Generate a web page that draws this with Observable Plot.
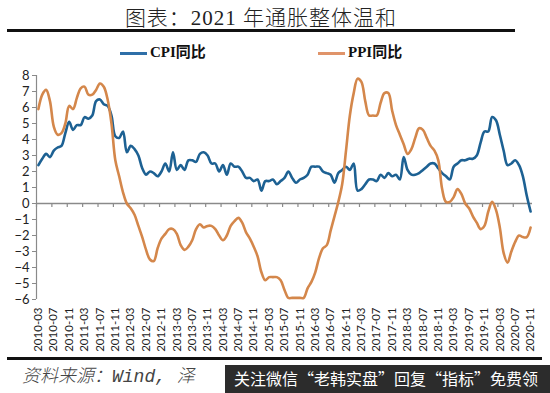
<!DOCTYPE html>
<html><head><meta charset="utf-8">
<script src="https://cdn.jsdelivr.net/npm/d3@7"></script>
<script src="https://cdn.jsdelivr.net/npm/@observablehq/plot@0.6"></script>
<style>
body{margin:0;background:#fff;width:550px;height:393px;position:relative;overflow:hidden;font-family:"Noto Sans CJK SC",sans-serif;}
.abs{position:absolute;}
#title{left:0;width:522px;top:1px;text-align:center;font-size:21px;color:#222;font-family:"Liberation Serif","Noto Sans CJK SC",serif;letter-spacing:1px;font-weight:300;}
.bar{background:#111;}
.leg{font-family:"Liberation Serif","Noto Sans CJK SC",serif;font-weight:bold;font-size:15px;color:#111;line-height:20px;}
.legline{display:inline-block;width:27px;height:2.5px;vertical-align:middle;margin-right:3px;}
#chart{left:0;top:62px;}
#src{left:22px;top:361px;font-size:18px;font-style:italic;color:#444;font-family:"Noto Sans CJK SC",serif;font-weight:300;white-space:nowrap;}
#src .m{font-family:"Liberation Mono",monospace;}
#wm{left:225px;top:365px;width:325px;height:28px;background:#2c2c2c;color:#fff;font-size:16px;line-height:26px;padding-left:9px;box-sizing:border-box;white-space:nowrap;}
</style></head>
<body>
<div id="title" class="abs">图表：2021 年通胀整体温和</div>
<div class="abs bar" style="left:7px;top:29px;width:508px;height:3px;"></div>
<div class="abs leg" style="left:120px;top:42px;"><span class="legline" style="background:#2f6fa8"></span>CPI同比</div>
<div class="abs leg" style="left:318px;top:42px;"><span class="legline" style="background:#e0946a"></span>PPI同比</div>
<div id="chart" class="abs"></div>
<div class="abs bar" style="left:7px;top:357px;width:535px;height:3px;"></div>
<div id="src" class="abs">资料来源：<span class="m">Wind, </span>泽</div>
<div id="wm" class="abs">关注微信“老韩实盘”回复“指标”免费领</div>
<script>
// Months 2010-03 .. 2020-11 (index 0..128)
const startLabel = "2010-03";
const cpi = [
 2.4,2.8,3.1,2.9,3.3,3.5,3.6,4.4,5.1,4.6,
 4.9,4.9,5.4,5.3,5.5,6.4,6.5,6.2,6.1,5.5,4.2,4.1,
 4.5,3.2,3.6,3.4,3.0,2.2,1.8,2.0,1.9,1.7,2.0,2.5,
 2.0,3.2,2.1,2.4,2.1,2.7,2.7,2.6,3.1,3.2,3.0,2.5,
 2.5,2.0,2.4,1.8,2.5,2.3,2.3,2.0,1.6,1.6,1.4,1.5,
 0.8,1.4,1.4,1.5,1.2,1.4,1.6,2.0,1.6,1.3,1.5,1.6,
 1.8,2.3,2.3,2.3,2.0,1.9,1.8,1.3,1.9,2.1,2.3,2.1,
 2.5,0.8,0.9,1.2,1.5,1.5,1.4,1.8,1.6,1.9,1.7,1.8,
 1.5,2.9,2.1,1.8,1.8,1.9,2.1,2.3,2.5,2.5,2.2,1.9,
 1.7,1.5,2.3,2.5,2.7,2.7,2.8,2.8,3.0,3.8,4.5,4.5,
 5.4,5.2,4.3,3.3,2.4,2.5,2.7,2.4,1.7,0.5,-0.5
];
const ppi = [
 5.9,6.8,7.1,6.4,4.8,4.3,4.4,5.0,6.1,5.9,
 6.6,7.2,7.3,6.8,6.8,7.1,7.5,7.3,6.5,5.0,2.7,1.7,
 0.7,0.0,-0.3,-0.7,-1.4,-2.1,-2.9,-3.5,-3.6,-2.8,-2.2,-1.9,
 -1.6,-1.6,-1.9,-2.6,-2.9,-2.7,-2.3,-1.6,-1.3,-1.5,-1.4,-1.4,
 -1.6,-2.0,-2.3,-2.0,-1.4,-1.1,-0.9,-1.2,-1.8,-2.2,-2.7,-3.3,
 -4.3,-4.8,-4.6,-4.6,-4.6,-4.8,-5.4,-5.9,-5.9,-5.9,-5.9,-5.9,
 -5.3,-4.9,-4.3,-3.4,-2.8,-2.6,-1.7,-0.8,0.1,1.2,3.3,5.5,
 6.9,7.8,7.6,6.4,5.5,5.5,5.5,6.3,6.9,6.9,5.8,4.9,
 4.3,3.7,3.1,3.4,4.1,4.7,4.6,4.1,3.6,3.3,2.7,0.9,
 0.1,0.1,0.4,0.9,0.6,0.0,-0.3,-0.8,-1.2,-1.6,-1.4,-0.5,
 0.1,-0.4,-1.5,-3.1,-3.7,-3.0,-2.4,-2.0,-2.1,-2.1,-1.5
];
const xLabels = ["2010-03","2010-07","2010-11","2011-03","2011-07","2011-11","2012-03","2012-07","2012-11",
 "2013-03","2013-07","2013-11","2014-03","2014-07","2014-11","2015-03","2015-07","2015-11",
 "2016-03","2016-07","2016-11","2017-03","2017-07","2017-11","2018-03","2018-07","2018-11",
 "2019-03","2019-07","2019-11","2020-03","2020-07","2020-11"];
const yTicks = [-6,-5,-4,-3,-2,-1,0,1,2,3,4,5,6,7,8];
const seriesNames = ["CPI同比","PPI同比"];
const colors = ["#1d6193","#d4874b"];

const rows = [];
cpi.forEach((v,i)=>rows.push({i, v, s:seriesNames[0]}));
ppi.forEach((v,i)=>rows.push({i, v, s:seriesNames[1]}));
const labelPos = xLabels.map((d,k)=>k*4);
const tickPos = xLabels.map((d,k)=>k*4-0.5);

const chart = Plot.plot({
  width: 550, height: 296,
  marginTop: 13, marginBottom: 59, marginLeft: 36, marginRight: 18,
  style: {fontFamily: "Lato, 'Open Sans', sans-serif", background: "transparent", overflow: "visible"},
  x: {domain: [-0.5, 128.5]},
  y: {domain: [-6, 8]},
  color: {domain: seriesNames, range: colors},
  marks: [
    Plot.ruleX([-0.5], {stroke: "#8a8a8a", strokeWidth: 1.2}),
    Plot.axisY({ticks: yTicks, tickSize: 4, tickPadding: 3, fontSize: 13, stroke:"#8a8a8a", fill: "#222", label: null}),
    Plot.ruleY([0], {stroke: "#8a8a8a", strokeWidth: 1.5}),
    Plot.ruleX(tickPos, {y1: 0, y2: -0.25, stroke: "#8a8a8a", strokeWidth: 1.2}),
    Plot.axisX({ticks: labelPos, tickFormat: (d)=>xLabels[Math.round(d/4)], tickSize: 0, tickPadding: 8, tickRotate: -90, fontSize: 11.5, fill: "#222", label: null}),
    Plot.line(rows, {x: "i", y: "v", z: "s", stroke: "s", strokeWidth: 2.6, curve: "catmull-rom"})
  ]
});
document.getElementById("chart").appendChild(chart);
</script>
</body></html>
